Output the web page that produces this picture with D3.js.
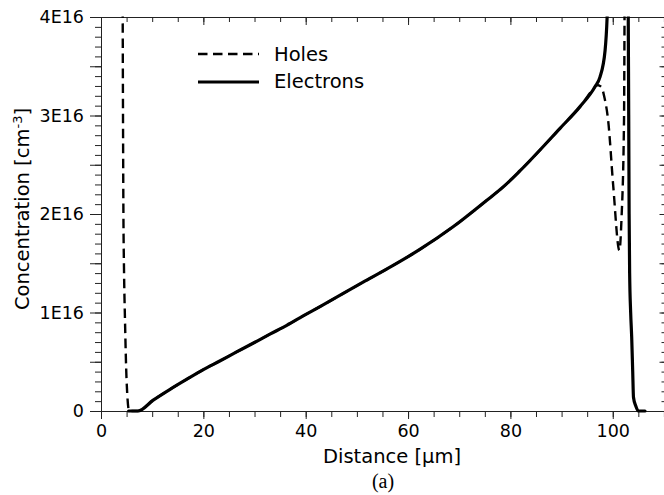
<!DOCTYPE html>
<html>
<head>
<meta charset="utf-8">
<script src="https://cdnjs.cloudflare.com/ajax/libs/d3/7.8.5/d3.min.js"></script>
<style>
  html, body { margin: 0; padding: 0; background: #fff; }
  svg { display: block; }
  text { font-family: "DejaVu Sans", sans-serif; fill: #000; }
</style>
</head>
<body>
<svg id="chart" width="664" height="495"></svg>
<script>
// Carrier concentration profiles across the device (units of 1E16 cm^-3)
const electronDistance = [5.4, 7.2, 10.2, 13.5, 16.7, 20.0, 23.3, 26.5, 29.8, 33.0, 36.3, 39.5, 42.8,
  51.3, 55.8, 62.3, 68.8, 75.4, 78.6, 81.9, 89.7, 93.6, 96.5, 97.5, 98.5, 98.9, 99.4, 100.5,
  102.5, 102.95, 103.03, 103.12, 103.2, 103.3, 103.5, 103.7, 103.9, 104.05, 104.5, 105.0, 106.3];
const electronConc = [0, 0, 0.11, 0.22, 0.32, 0.42, 0.51, 0.60, 0.69, 0.78, 0.87, 0.965, 1.06,
  1.31, 1.44, 1.64, 1.87, 2.14, 2.275, 2.44, 2.87, 3.09, 3.29, 3.39, 3.66, 4.0, 5.0, 9.0,
  9.0, 5.0, 4.0, 3.0, 2.0, 1.4, 1.0, 0.75, 0.4, 0.14, 0.05, 0.0, 0.0];

const holeDistance = [0, 4.1, 4.24, 4.3, 4.38, 4.49, 4.69, 5.0, 5.5, 7.2, 10.2, 13.5, 16.7, 20.0,
  23.3, 26.5, 29.8, 33.0, 36.3, 39.5, 42.8, 51.3, 55.8, 62.3, 68.8, 75.4, 78.6, 81.9, 89.7,
  93.6, 96.5, 96.85, 97.8, 98.3, 99.1, 100.1, 101.3, 101.7, 102.2, 102.3, 102.45, 110.6];
const holeConc = [12, 6.0, 4.0, 3.0, 2.0, 1.46, 0.92, 0.31, 0, 0, 0.11, 0.22, 0.32, 0.42,
  0.51, 0.60, 0.69, 0.78, 0.87, 0.965, 1.06, 1.31, 1.44, 1.64, 1.87, 2.14, 2.275, 2.44, 2.87,
  3.09, 3.29, 3.31, 3.29, 3.2, 2.95, 2.28, 1.63, 1.94, 2.95, 4.0, 6.0, 12];

const xMajorTicks = [0, 20, 40, 60, 80, 100];
const yMajorTicks = [0, 1, 2, 3, 4];
const yTickLabels = ["0", "1E16", "2E16", "3E16", "4E16"];
const legendLabels = ["Holes", "Electrons"];

const xMax = 110.6;
const svg = d3.select("#chart");

const x = d3.scaleLinear().domain([0, xMax]).range([101, 667]);
const y = d3.scaleLinear().domain([0, 4]).range([411, 17]);

const xMinor = d3.range(0, 111, 5);
const yMinor = d3.range(0, 41).map(i => i / 10);
const yHalf = [0.5, 1.5, 2.5, 3.5];

function styleAxis(g, keepDomain) {
  g.selectAll("path.domain").attr("stroke", "#222").attr("stroke-width", 1)
    .attr("display", keepDomain ? null : "none");
  g.selectAll(".tick line").attr("stroke", "#222").attr("stroke-width", 1);
}

// bottom axis: minor ticks every 5 um, labelled majors every 20 um
svg.append("g").attr("transform", "translate(0,411)")
  .call(d3.axisBottom(x).tickValues(xMinor).tickSize(6).tickSizeOuter(0).tickFormat(""))
  .call(g => styleAxis(g, false));
svg.append("g").attr("transform", "translate(0,411)")
  .call(d3.axisBottom(x).tickValues(xMajorTicks).tickSize(8).tickSizeOuter(0).tickPadding(6)
    .tickFormat(d3.format("d")))
  .call(g => styleAxis(g, true))
  .call(g => g.selectAll("text").attr("font-size", "17.5px").attr("font-family", "DejaVu Sans"));

// top axis: ticks pointing into the plot
svg.append("g").attr("transform", "translate(0,17)")
  .call(d3.axisBottom(x).tickValues(xMinor).tickSize(5).tickSizeOuter(0).tickFormat(""))
  .call(g => styleAxis(g, true));
svg.append("g").attr("transform", "translate(0,17)")
  .call(d3.axisBottom(x).tickValues(xMajorTicks).tickSize(8).tickSizeOuter(0).tickFormat(""))
  .call(g => styleAxis(g, false));

// left axis
svg.append("g").attr("transform", "translate(101,0)")
  .call(d3.axisLeft(y).tickValues(yMinor).tickSize(6).tickSizeOuter(0).tickFormat(""))
  .call(g => styleAxis(g, true));
svg.append("g").attr("transform", "translate(101,0)")
  .call(d3.axisLeft(y).tickValues(yHalf).tickSize(11).tickSizeOuter(0).tickFormat(""))
  .call(g => styleAxis(g, false));
svg.append("g").attr("transform", "translate(101,0)")
  .call(d3.axisLeft(y).tickValues(yMajorTicks).tickSize(11).tickSizeOuter(0).tickPadding(6)
    .tickFormat((d, i) => yTickLabels[i]))
  .call(g => styleAxis(g, false))
  .call(g => g.selectAll("text").attr("font-size", "17.5px").attr("font-family", "DejaVu Sans"));

// right axis: ticks pointing into the plot
svg.append("g").attr("transform", "translate(667,0)")
  .call(d3.axisLeft(y).tickValues(yMinor).tickSize(5.5).tickSizeOuter(0).tickFormat(""))
  .call(g => styleAxis(g, true));
svg.append("g").attr("transform", "translate(667,0)")
  .call(d3.axisLeft(y).tickValues(yHalf.concat(yMajorTicks)).tickSize(7.5).tickSizeOuter(0).tickFormat(""))
  .call(g => styleAxis(g, false));

// clip the curves to the plotting window
svg.append("defs").append("clipPath").attr("id", "plotClip")
  .append("rect").attr("x", 101).attr("y", 16.5).attr("width", 566).attr("height", 400);

const line = d3.line().curve(d3.curveMonotoneX).x(d => x(d[0])).y(d => y(d[1]));
const holes = holeDistance.map((d, i) => [d, holeConc[i]]);
const electrons = electronDistance.map((d, i) => [d, electronConc[i]]);

const plot = svg.append("g").attr("clip-path", "url(#plotClip)");
plot.append("path").datum(holes).attr("d", line)
  .attr("fill", "none").attr("stroke", "#000").attr("stroke-width", 2.4)
  .attr("stroke-dasharray", "9.5,5.5").attr("stroke-linejoin", "round");
plot.append("path").datum(electrons).attr("d", line)
  .attr("fill", "none").attr("stroke", "#000").attr("stroke-width", 3.2)
  .attr("stroke-linejoin", "round").attr("stroke-linecap", "round");

// legend
const legend = svg.append("g");
legend.append("line").attr("x1", 198).attr("x2", 259).attr("y1", 54).attr("y2", 54)
  .attr("stroke", "#000").attr("stroke-width", 2.4).attr("stroke-dasharray", "9.5,5.5");
legend.append("line").attr("x1", 198).attr("x2", 259).attr("y1", 82).attr("y2", 82)
  .attr("stroke", "#000").attr("stroke-width", 3.2);
legend.selectAll("text.lg").data(legendLabels).enter().append("text")
  .attr("class", "lg").attr("x", 274).attr("y", (d, i) => 60.7 + i * 27.6)
  .attr("font-size", "19.5px").text(d => d);

// axis titles
svg.append("text").attr("x", 392).attr("y", 463).attr("text-anchor", "middle")
  .attr("font-size", "19.5px").text("Distance [μm]");

const yTitle = svg.append("text").attr("transform", "translate(29,209) rotate(-90)")
  .attr("text-anchor", "middle").attr("font-size", "19.5px");
yTitle.append("tspan").text("Concentration [cm");
yTitle.append("tspan").attr("font-size", "13px").attr("dy", "-7").text("-3");
yTitle.append("tspan").attr("dy", "7").text("]");

svg.append("text").attr("x", 383).attr("y", 488).attr("text-anchor", "middle")
  .attr("font-size", "20px").style("font-family", "'Liberation Serif', 'Times New Roman', serif")
  .text("(a)");
</script>
</body>
</html>
